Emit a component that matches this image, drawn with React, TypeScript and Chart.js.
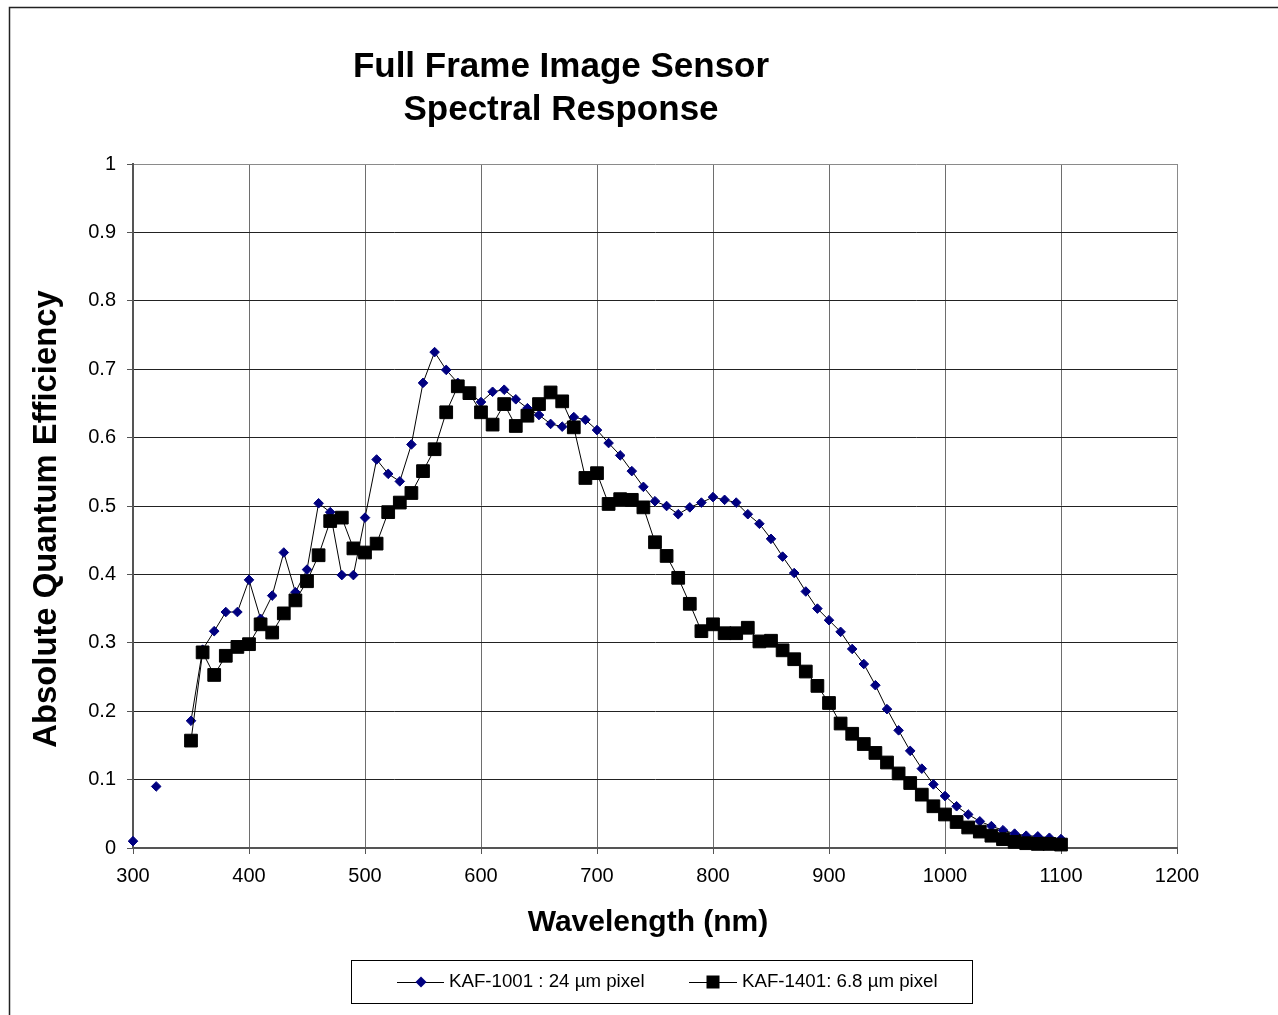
import React, { useEffect, useRef } from "react";
import { Chart, registerables } from "chart.js";

Chart.register(...registerables);

const wavelengths = [
  300, 310, 320, 330, 340, 350, 360, 370, 380, 390,
  400, 410, 420, 430, 440, 450, 460, 470, 480, 490,
  500, 510, 520, 530, 540, 550, 560, 570, 580, 590,
  600, 610, 620, 630, 640, 650, 660, 670, 680, 690,
  700, 710, 720, 730, 740, 750, 760, 770, 780, 790,
  800, 810, 820, 830, 840, 850, 860, 870, 880, 890,
  900, 910, 920, 930, 940, 950, 960, 970, 980, 990,
  1000, 1010, 1020, 1030, 1040, 1050, 1060, 1070, 1080, 1090,
  1100,
];

const kaf1001 = [
  0.01, null, 0.09, null, null, 0.186, 0.29, 0.317, 0.345, 0.345,
  0.392, 0.335, 0.369, 0.432, 0.374, 0.407, 0.504, 0.491, 0.399, 0.399,
  0.483, 0.568, 0.547, 0.536, 0.59, 0.68, 0.725, 0.699, 0.68, 0.665,
  0.652, 0.667, 0.67, 0.656, 0.643, 0.633, 0.62, 0.616, 0.63, 0.626,
  0.611, 0.592, 0.574, 0.551, 0.528, 0.507, 0.5, 0.488, 0.498, 0.505,
  0.513, 0.509, 0.505, 0.488, 0.474, 0.452, 0.426, 0.402, 0.375, 0.35,
  0.333, 0.316, 0.291, 0.269, 0.238, 0.203, 0.172, 0.142, 0.116, 0.093,
  0.076, 0.061, 0.049, 0.039, 0.032, 0.026, 0.021, 0.018, 0.017, 0.015,
  0.013,
];

const kaf1401 = [
  null, null, null, null, null, 0.157, 0.286, 0.253, 0.281, 0.294,
  0.298, 0.327, 0.315, 0.343, 0.362, 0.39, 0.428, 0.478, 0.483, 0.438,
  0.432, 0.445, 0.491, 0.505, 0.519, 0.551, 0.583, 0.637, 0.675, 0.665,
  0.637, 0.619, 0.649, 0.617, 0.632, 0.649, 0.666, 0.653, 0.615, 0.541,
  0.548, 0.503, 0.51, 0.509, 0.498, 0.447, 0.427, 0.395, 0.357, 0.317,
  0.327, 0.314, 0.314, 0.322, 0.302, 0.303, 0.289, 0.276, 0.258, 0.237,
  0.212, 0.182, 0.167, 0.152, 0.139, 0.125, 0.109, 0.095, 0.078, 0.061,
  0.049, 0.038, 0.03, 0.024, 0.018, 0.013, 0.009, 0.007, 0.006, 0.006,
  0.005,
];

const titleLines = ["Full Frame Image Sensor", "Spectral Response"];
const xAxisTitle = "Wavelength (nm)";
const yAxisTitle = "Absolute Quantum Efficiency";
const seriesNames = ["KAF-1001 : 24 µm pixel", "KAF-1401: 6.8 µm pixel"];

const FONT = '"Liberation Sans", Arial, Helvetica, sans-serif';
const NAVY = "#000080";

const decorPlugin = {
  id: "decor",
  afterDraw(chart: any) {
    const ctx = chart.ctx as CanvasRenderingContext2D;
    ctx.save();
    // outer frame
    ctx.strokeStyle = "#222";
    ctx.lineWidth = 1.5;
    ctx.beginPath();
    ctx.moveTo(9.5, 1030);
    ctx.lineTo(9.5, 7.5);
    ctx.lineTo(1290, 7.5);
    ctx.stroke();

    ctx.fillStyle = "#000";
    // title
    ctx.font = `bold 35px ${FONT}`;
    ctx.textAlign = "center";
    ctx.textBaseline = "alphabetic";
    ctx.fillText(titleLines[0], 561, 77);
    ctx.fillText(titleLines[1], 561, 120);

    // x axis title
    ctx.font = `bold 30px ${FONT}`;
    ctx.textBaseline = "middle";
    ctx.fillText(xAxisTitle, 648, 923);

    // y axis title
    ctx.save();
    ctx.translate(47, 519);
    ctx.rotate(-Math.PI / 2);
    ctx.font = `bold 32.8px ${FONT}`;
    ctx.fillText(yAxisTitle, 0, 0);
    ctx.restore();

    // legend box
    ctx.strokeStyle = "#000";
    ctx.lineWidth = 1;
    ctx.strokeRect(351.5, 960.5, 621, 43);
    const ly = 982;
    // item 1
    ctx.beginPath();
    ctx.moveTo(397, ly + 0.5);
    ctx.lineTo(444, ly + 0.5);
    ctx.stroke();
    ctx.fillStyle = NAVY;
    ctx.beginPath();
    ctx.moveTo(421 - 5.5, ly);
    ctx.lineTo(421, ly - 5.5);
    ctx.lineTo(421 + 5.5, ly);
    ctx.lineTo(421, ly + 5.5);
    ctx.closePath();
    ctx.fill();
    // item 2
    ctx.beginPath();
    ctx.moveTo(689, ly + 0.5);
    ctx.lineTo(737, ly + 0.5);
    ctx.stroke();
    ctx.fillStyle = "#000";
    ctx.fillRect(713 - 6.5, ly - 6.5, 13, 13);

    ctx.fillStyle = "#000";
    ctx.font = `18.7px ${FONT}`;
    ctx.textAlign = "left";
    ctx.textBaseline = "middle";
    ctx.fillText(seriesNames[0], 449, ly);
    ctx.fillText(seriesNames[1], 742, ly);
    ctx.restore();
  },
};

export default function App() {
  const canvasRef = useRef<HTMLCanvasElement | null>(null);

  useEffect(() => {
    if (!canvasRef.current) return;
    Chart.defaults.font.family = FONT;
    const chart = new Chart(canvasRef.current, {
      type: "line",
      data: {
        datasets: [
          {
            label: seriesNames[1],
            data: wavelengths.map((w, i) => ({ x: w, y: kaf1401[i] })) as any,
            borderColor: "#000",
            borderWidth: 1,
            pointStyle: "rect",
            pointRadius: 9,
            pointBackgroundColor: "#000",
            pointBorderColor: "#000",
            pointBorderWidth: 1,
            spanGaps: false,
            clip: false as any,
            order: 0,
          },
          {
            label: seriesNames[0],
            data: wavelengths.map((w, i) => ({ x: w, y: kaf1001[i] })) as any,
            borderColor: "#000",
            borderWidth: 1,
            pointStyle: "rectRot",
            pointRadius: 4.8,
            pointBackgroundColor: NAVY,
            pointBorderColor: NAVY,
            pointBorderWidth: 1,
            spanGaps: false,
            clip: false as any,
            order: 1,
          },
        ],
      },
      options: {
        animation: false,
        responsive: false,
        events: [],
        layout: { padding: { top: 164, right: 101, left: 0, bottom: 0 } },
        plugins: {
          legend: { display: false },
          title: { display: false },
          tooltip: { enabled: false },
        },
        scales: {
          x: {
            type: "linear",
            min: 300,
            max: 1200,
            ticks: {
              stepSize: 100,
              color: "#000",
              font: { size: 20, family: FONT },
              padding: 10,
              maxRotation: 0,
              callback: (v: any) => String(Math.round(Number(v))),
            },
            grid: {
              color: (c: any) => (c.tick && c.tick.value === 1200 ? "#8a8a8a" : "#6e6e6e"),
              lineWidth: 1,
              drawTicks: true,
              tickLength: 6,
              tickColor: "#555",
            },
            border: { display: true, color: "#555", width: 2 },
            afterFit: (s: any) => {
              s.height = 167;
            },
          },
          y: {
            type: "linear",
            min: 0,
            max: 1,
            ticks: {
              stepSize: 0.1,
              color: "#000",
              font: { size: 20, family: FONT },
              padding: 11,
              callback: (v: any) => String(Math.round(Number(v) * 10) / 10),
            },
            grid: {
              color: (c: any) => (c.tick && c.tick.value === 1 ? "#8a8a8a" : "#222"),
              lineWidth: 1,
              drawTicks: true,
              tickLength: 6,
              tickColor: "#555",
            },
            border: { display: true, color: "#555", width: 2 },
            afterFit: (s: any) => {
              s.width = 133;
            },
          },
        },
      },
      plugins: [decorPlugin],
    });
    return () => chart.destroy();
  }, []);

  return (
    <div style={{ position: "absolute", left: 0, top: 0, width: 1278, height: 1015, background: "#fff" }}>
      <canvas ref={canvasRef} width={1278} height={1015} style={{ display: "block" }} />
    </div>
  );
}
